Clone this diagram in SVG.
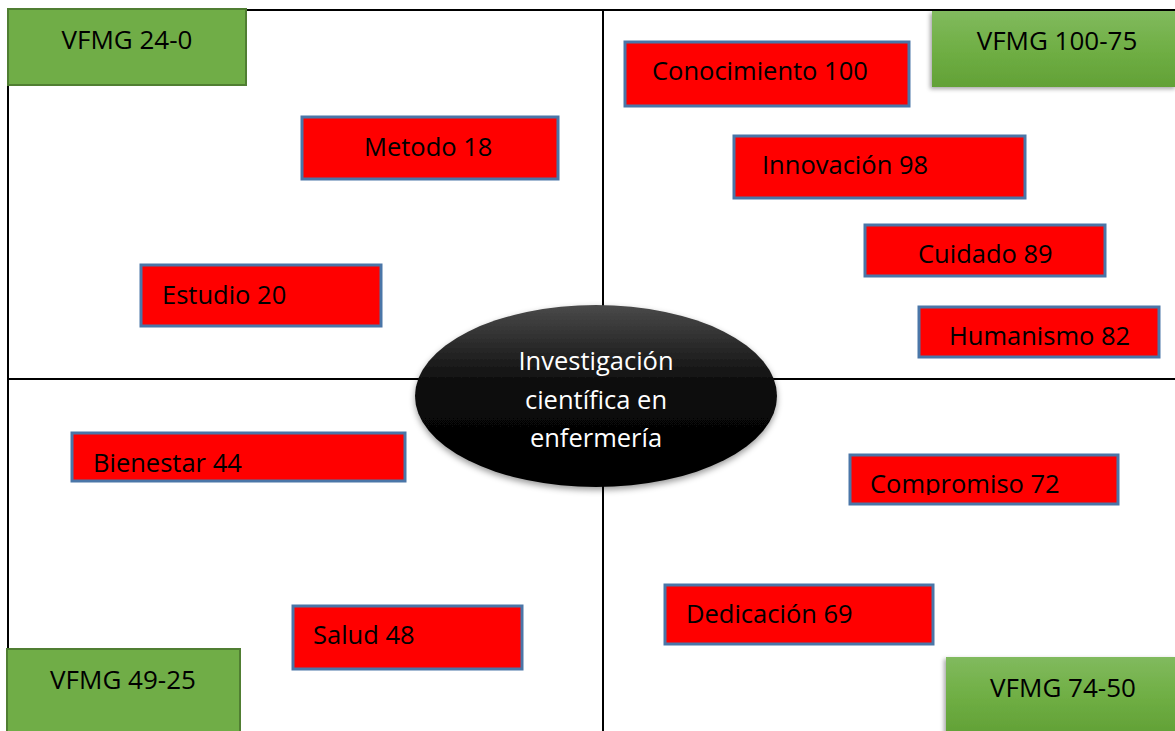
<svg xmlns="http://www.w3.org/2000/svg" width="1175" height="731" viewBox="0 0 1175 731">
<style>
  .grid { stroke: #000; stroke-width: 2; fill: none; }
  .red { fill: #FF0000; stroke: #4A76A8; stroke-width: 3; }
  .gflat { fill: #70AD47; stroke: #507E32; stroke-width: 2; }
  .ggrad { fill: url(#gGrad); stroke: none; filter: url(#gShadow); }
  .t { font-family: "Open Sans", "Liberation Sans", sans-serif; font-size: 25.5px; fill: #000; }
  .tc { font-family: "Open Sans", "Liberation Sans", sans-serif; font-size: 25.5px; fill: #fff; text-anchor: middle; }
  .gt { font-family: "Open Sans", "Liberation Sans", sans-serif; font-size: 26px; fill: #000; text-anchor: middle; }
</style>
<defs>
  <linearGradient id="gGrad" x1="0" y1="0" x2="0" y2="1">
    <stop offset="0" stop-color="#81BA5E"/>
    <stop offset="0.5" stop-color="#70AF45"/>
    <stop offset="1" stop-color="#62A136"/>
  </linearGradient>
  <linearGradient id="eGrad" x1="0" y1="0" x2="0" y2="1">
    <stop offset="0" stop-color="#4A4A4A"/>
    <stop offset="0.45" stop-color="#0A0A0A"/>
    <stop offset="1" stop-color="#000"/>
  </linearGradient>
  <filter id="gShadow" x="-10%" y="-10%" width="120%" height="130%">
    <feDropShadow dx="-2" dy="2" stdDeviation="2" flood-color="#000" flood-opacity="0.35"/>
  </filter>
  <filter id="eShadow" x="-10%" y="-10%" width="120%" height="130%">
    <feDropShadow dx="0" dy="3" stdDeviation="3" flood-color="#000" flood-opacity="0.4"/>
  </filter>
  <clipPath id="clipComp"><rect x="849" y="454" width="269" height="41"/></clipPath>
</defs>

<g id="grid">
  <line class="grid" x1="8" y1="10" x2="1175" y2="10"/>
  <line class="grid" x1="8" y1="10" x2="8" y2="731"/>
  <line class="grid" x1="603" y1="10" x2="603" y2="731"/>
  <line class="grid" x1="8" y1="379" x2="1175" y2="379"/>
</g>

<g id="vfmg-24-0">
  <rect class="gflat" x="8" y="9" width="238" height="76"/>
  <text class="gt" x="127" y="49">VFMG 24-0</text>
</g>
<g id="vfmg-100-75">
  <rect class="ggrad" x="932" y="11" width="245" height="76"/>
  <text class="gt" x="1057" y="50">VFMG 100-75</text>
</g>
<g id="vfmg-49-25">
  <rect class="gflat" x="7" y="649" width="233" height="84"/>
  <text class="gt" x="123" y="689">VFMG 49-25</text>
</g>
<g id="vfmg-74-50">
  <rect class="ggrad" x="946" y="657" width="231" height="76"/>
  <text class="gt" x="1063" y="697">VFMG 74-50</text>
</g>

<g id="metodo">
  <rect class="red" x="302" y="117" width="256" height="62"/>
  <text class="t" x="364" y="156">Metodo 18</text>
</g>
<g id="estudio">
  <rect class="red" x="141" y="265" width="240" height="61"/>
  <text class="t" x="162" y="304">Estudio 20</text>
</g>
<g id="conocimiento">
  <rect class="red" x="625" y="42" width="284" height="64"/>
  <text class="t" x="652" y="80">Conocimiento 100</text>
</g>
<g id="innovacion">
  <rect class="red" x="734" y="136" width="291" height="62"/>
  <text class="t" x="762" y="174">Innovación 98</text>
</g>
<g id="cuidado">
  <rect class="red" x="865" y="225" width="240" height="51"/>
  <text class="t" x="918" y="263">Cuidado 89</text>
</g>
<g id="humanismo">
  <rect class="red" x="919" y="307" width="240" height="50"/>
  <text class="t" x="949" y="345">Humanismo 82</text>
</g>
<g id="bienestar">
  <rect class="red" x="72" y="433" width="333" height="48"/>
  <text class="t" x="93" y="472">Bienestar 44</text>
</g>
<g id="compromiso">
  <rect class="red" x="850" y="455" width="268" height="49"/>
  <text class="t" x="870" y="493" clip-path="url(#clipComp)">Compromiso 72</text>
</g>
<g id="salud">
  <rect class="red" x="293" y="606" width="229" height="63"/>
  <text class="t" x="313" y="644">Salud 48</text>
</g>
<g id="dedicacion">
  <rect class="red" x="665" y="585" width="268" height="59"/>
  <text class="t" x="686" y="623">Dedicación 69</text>
</g>

<g id="centro">
  <ellipse cx="596" cy="396" rx="181" ry="91" fill="url(#eGrad)" filter="url(#eShadow)"/>
  <text class="tc" x="596" y="370">Investigación</text>
  <text class="tc" x="596" y="409">científica en</text>
  <text class="tc" x="596" y="447">enfermería</text>
</g>
</svg>
